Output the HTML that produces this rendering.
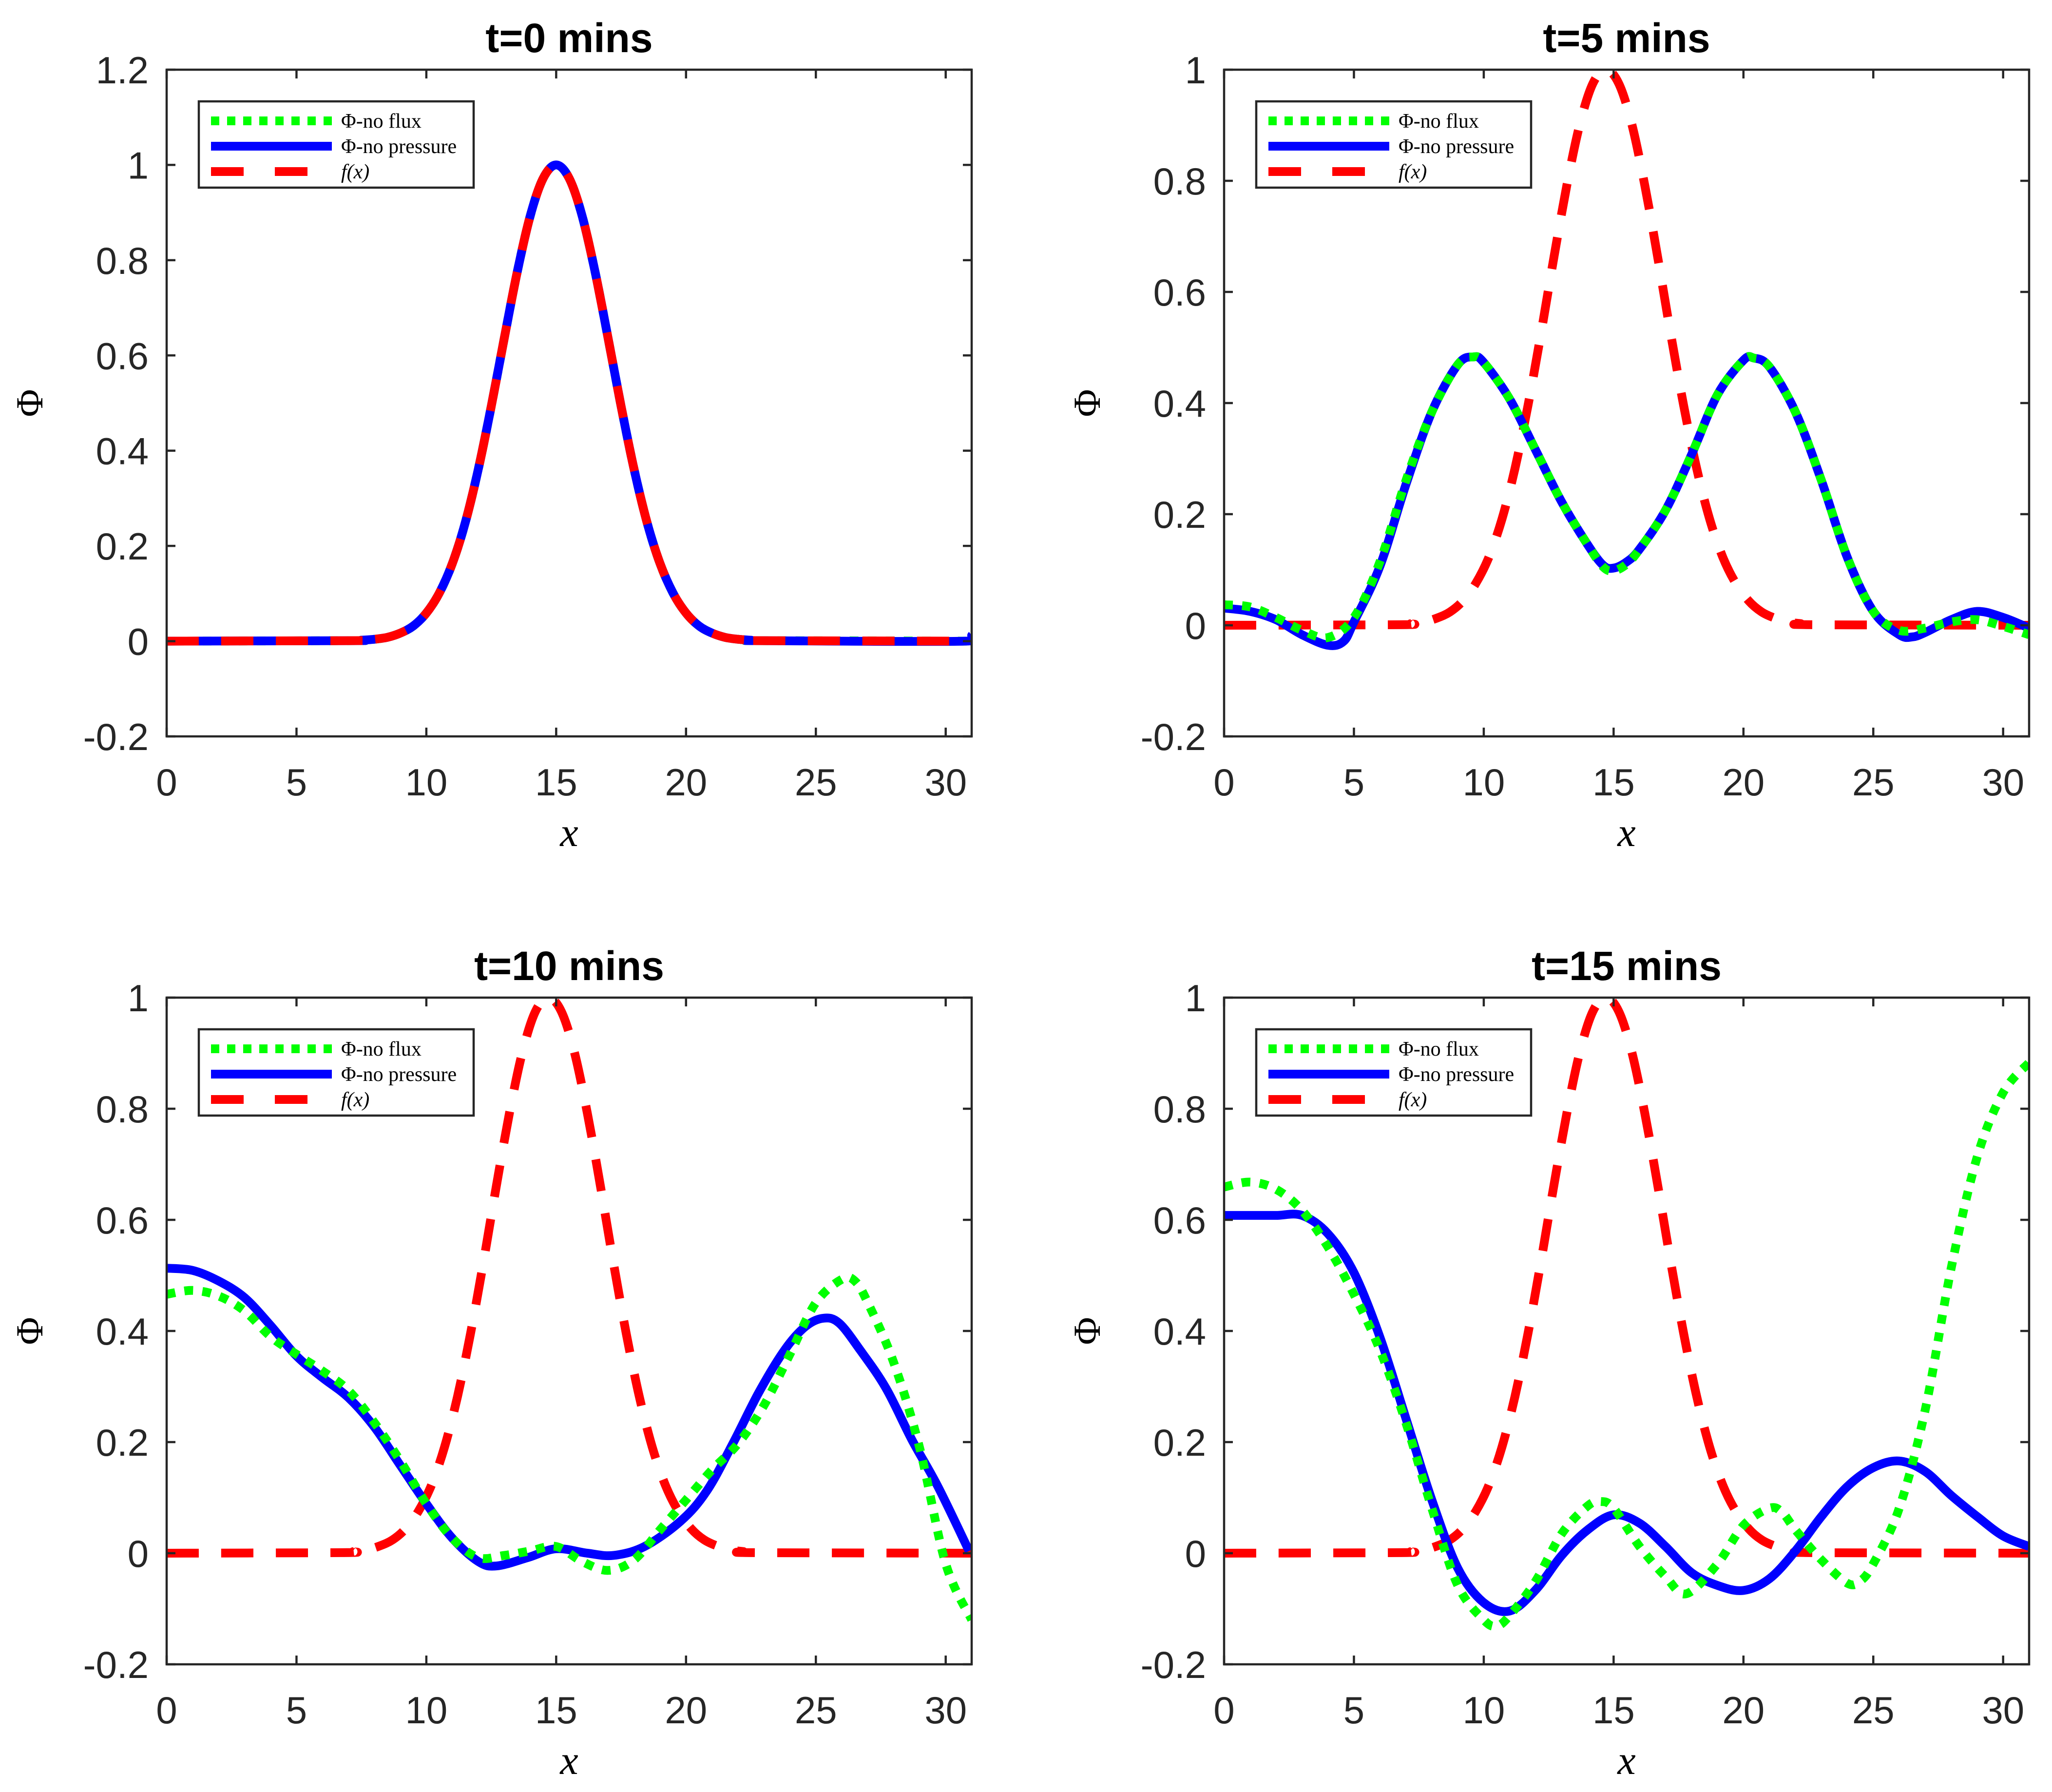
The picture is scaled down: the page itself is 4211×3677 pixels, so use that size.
<!DOCTYPE html>
<html><head><meta charset="utf-8"><style>
html,body{margin:0;padding:0;background:#fff;}
svg{display:block;}
</style></head><body>
<svg id="fig" xmlns="http://www.w3.org/2000/svg" width="4211" height="3677" viewBox="0 0 4211 3677">
<rect width="4211" height="3677" fill="#fff"/>
</svg>
<script>
// ---- data ----
const xTicks = [0,5,10,15,20,25,30];
const yTicksA = [-0.2,0,0.2,0.4,0.6,0.8,1,1.2];
const yTicksB = [-0.2,0,0.2,0.4,0.6,0.8,1];
const yLabelsA = ['-0.2','0','0.2','0.4','0.6','0.8','1','1.2'];
const yLabelsB = ['-0.2','0','0.2','0.4','0.6','0.8','1'];
const titles = ['t=0 mins','t=5 mins','t=10 mins','t=15 mins'];

// t=0
const fX0 = [0,7,7.5,8,8.5,9,9.5,10,10.5,11,11.5,12,12.5,13,13.5,14,14.5,15,15.5,16,16.5,17,17.5,18,18.5,19,19.5,20,20.5,21,21.5,22,22.5,23,31];
const fY0 = [0,0.001,0.002,0.004,0.008,0.017,0.032,0.059,0.101,0.163,0.249,0.361,0.493,0.636,0.775,0.893,0.972,1,0.972,0.893,0.775,0.636,0.493,0.361,0.249,0.163,0.101,0.059,0.032,0.017,0.008,0.004,0.002,0.001,0];
const gX0 = fX0;
const gY0 = fY0;
const bX0 = [0,7,7.5,8,8.5,9,9.5,10,10.5,11,11.5,12,12.5,13,13.5,14,14.5,15,15.5,16,16.5,17,17.5,18,18.5,19,19.5,20,20.5,21,21.5,22,22.5,23,30.7,31];
const bY0 = [0,0.001,0.002,0.004,0.008,0.017,0.032,0.059,0.101,0.163,0.249,0.361,0.493,0.636,0.775,0.893,0.972,1,0.972,0.893,0.775,0.636,0.493,0.361,0.249,0.163,0.101,0.059,0.032,0.017,0.008,0.004,0.002,0.001,0,0.012];

// shifted f(x) for later panels
const fX = [0,6.7,7.2,7.7,8.2,8.7,9.2,9.7,10.2,10.7,11.2,11.7,12.2,12.7,13.2,13.7,14.2,14.7,15.2,15.7,16.2,16.7,17.2,17.7,18.2,18.7,19.2,19.7,20.2,20.7,21.2,21.7,22.2,22.7,31];
const fY = [0,0.001,0.003,0.006,0.013,0.024,0.044,0.076,0.123,0.191,0.282,0.395,0.524,0.662,0.792,0.902,0.975,1,0.975,0.902,0.792,0.662,0.524,0.395,0.282,0.191,0.123,0.076,0.044,0.024,0.013,0.006,0.003,0.001,0];

// t=5
const bX1 = [0,1,2,3,4,4.6,5,6,7,8,9,9.6,10,11,12,13,14,14.6,15,15.5,16,17,18,19,20,20.4,21,22,23,24,25,26,26.5,27,28,29,30,31];
const bY1 = [0.031,0.025,0.01,-0.017,-0.036,-0.029,0.006,0.106,0.253,0.384,0.469,0.483,0.473,0.407,0.315,0.222,0.145,0.108,0.103,0.114,0.137,0.207,0.307,0.415,0.477,0.481,0.465,0.384,0.261,0.122,0.025,-0.017,-0.021,-0.013,0.01,0.025,0.014,-0.005];
const gX1 = [0,1,2,3,4,5,6,7,8,9,9.6,10,11,12,13,14,14.6,15,15.5,16,17,18,19,20,20.4,21,22,23,24,25,26,27,28,29,30,31];
const gY1 = [0.037,0.033,0.014,-0.009,-0.022,0.014,0.114,0.26,0.384,0.469,0.483,0.473,0.407,0.315,0.222,0.145,0.105,0.098,0.11,0.137,0.207,0.307,0.415,0.477,0.481,0.465,0.384,0.261,0.122,0.025,-0.009,-0.005,0.006,0.01,-0.002,-0.017];

// t=10
const bX2 = [0,1,2,3,4,5,6,7,8,9,10,11,12,12.7,13.9,15,16.2,17.2,18.4,19.8,20.8,21.8,22.8,23.8,24.6,25.3,25.9,26.7,27.7,28.7,29.7,30.9];
const bY2 = [0.513,0.509,0.49,0.46,0.41,0.355,0.316,0.28,0.227,0.158,0.089,0.027,-0.015,-0.023,-0.008,0.008,0,-0.004,0.012,0.058,0.112,0.197,0.289,0.366,0.408,0.423,0.414,0.366,0.297,0.204,0.12,0.004];
const gX2 = [0,1,2,3,4,5,6,7,8,9,10,11,12,13,14,15,16,17,18,19,20,21,22,23,24,25,26,26.5,27,28,29,30,31];
const gY2 = [0.466,0.473,0.463,0.436,0.39,0.358,0.328,0.293,0.235,0.166,0.089,0.027,-0.008,-0.004,0.004,0.012,-0.015,-0.031,-0.012,0.042,0.096,0.15,0.197,0.266,0.358,0.451,0.493,0.49,0.451,0.343,0.189,-0.019,-0.12];

// t=15
const bX3 = [0,1,2,3,4,5,6,7,8,9,10,11,12,13,14,15,16,17,18,19,20,21,22,23,24,25,26,27,28,29,30,31];
const bY3 = [0.608,0.608,0.608,0.608,0.575,0.505,0.389,0.243,0.096,-0.027,-0.089,-0.104,-0.066,-0.004,0.042,0.069,0.054,0.012,-0.035,-0.058,-0.067,-0.046,0.004,0.066,0.12,0.154,0.166,0.147,0.104,0.066,0.031,0.012];
const gX3 = [0,1,2,3,4,5,6,7,8,9,10,10.5,11,12,13,14,14.5,15,16,17,17.8,19,20,21,21.5,22,23,24,24.5,25,26,27,28,29,30,31];
const gY3 = [0.659,0.668,0.655,0.617,0.551,0.466,0.366,0.235,0.081,-0.058,-0.12,-0.131,-0.112,-0.05,0.035,0.085,0.093,0.081,0.012,-0.042,-0.073,-0.019,0.05,0.081,0.073,0.042,-0.012,-0.054,-0.05,-0.019,0.081,0.258,0.513,0.713,0.829,0.883];

const panelSeries = [
  {g:[gX0,gY0], b:[bX0,bY0], f:[fX0,fY0], ymax:1.2},
  {g:[gX1,gY1], b:[bX1,bY1], f:[fX,fY], ymax:1},
  {g:[gX2,gY2], b:[bX2,bY2], f:[fX,fY], ymax:1},
  {g:[gX3,gY3], b:[bX3,bY3], f:[fX,fY], ymax:1}
];

// ---- drawing ----
const NS = 'http://www.w3.org/2000/svg';
const svg = document.getElementById('fig');
const origins = [[342,143],[2512,143],[342,2047],[2512,2047]];
const W = 1652, H = 1368, XMAX = 31, YMIN = -0.2;
const AX = '#262626';
function mk(tag, attrs, parent){
  const e = document.createElementNS(NS, tag);
  for (const k in attrs) e.setAttribute(k, attrs[k]);
  (parent||svg).appendChild(e);
  return e;
}
function smoothPath(pts){
  let d = 'M' + pts[0][0].toFixed(1) + ' ' + pts[0][1].toFixed(1);
  for (let i=0;i<pts.length-1;i++){
    const p0 = pts[Math.max(0,i-1)], p1 = pts[i], p2 = pts[i+1], p3 = pts[Math.min(pts.length-1,i+2)];
    const c1x = p1[0] + (p2[0]-p0[0])/6, c1y = p1[1] + (p2[1]-p0[1])/6;
    const c2x = p2[0] - (p3[0]-p1[0])/6, c2y = p2[1] - (p3[1]-p1[1])/6;
    d += ' C' + c1x.toFixed(1)+' '+c1y.toFixed(1)+' '+c2x.toFixed(1)+' '+c2y.toFixed(1)+' '+p2[0].toFixed(1)+' '+p2[1].toFixed(1);
  }
  return d;
}

panelSeries.forEach((ps, i) => {
  const [ox, oy] = origins[i];
  const ymax = ps.ymax;
  const sx = v => ox + v / XMAX * W;
  const sy = v => oy + H - (v - YMIN) / (ymax - YMIN) * H;
  const g = mk('g', {});
  
  

  const clipId = 'clip' + i;
  const cp = mk('clipPath', {id: clipId}, g);
  mk('rect', {x: ox, y: oy, width: W, height: H}, cp);

  const t = mk('text', {x: ox + W/2, y: oy - 36, 'text-anchor':'middle', 'font-family':'Liberation Sans, sans-serif', 'font-weight':'bold', 'font-size':84, fill:'#000'}, g);
  t.textContent = titles[i];
  
  

  const series = [
    {d: ps.f, color:'#ff0000', dash:'66 46', name:'series-f-x'},
    {d: ps.b, color:'#0000ff', dash:'none', name:'series-no-pressure'},
    {d: ps.g, color:'#00ff00', dash:'18 19', name:'series-no-flux'}
  ];
  const order = i === 0 ? [2,1,0] : [0,1,2];
  const sg = mk('g', {'clip-path':'url(#'+clipId+')'}, g);
  order.forEach(k => {
    const s = series[k];
    const pts = s.d[0].map((x, j) => [sx(x), sy(s.d[1][j])]);
    const p = mk('path', {d: smoothPath(pts), fill:'none', stroke:s.color, 'stroke-width':18, 'stroke-dasharray':s.dash, 'stroke-linejoin':'round'}, sg);
    
    
  });

  const box = mk('rect', {x: ox, y: oy, width: W, height: H, fill:'none', stroke:AX, 'stroke-width':4.5}, g);
  
  

  xTicks.forEach(v => {
    const x = sx(v);
    mk('line', {x1:x, y1:oy+H, x2:x, y2:oy+H-18, stroke:AX, 'stroke-width':4.5}, g);
    mk('line', {x1:x, y1:oy, x2:x, y2:oy+18, stroke:AX, 'stroke-width':4.5}, g);
    const tl = mk('text', {x:x, y:oy+H+121, 'text-anchor':'middle', 'font-family':'Liberation Sans, sans-serif', 'font-size':78, fill:AX}, g);
    tl.textContent = String(v);
    
    
  });
  const yt = i === 0 ? yTicksA : yTicksB;
  const yl = i === 0 ? yLabelsA : yLabelsB;
  yt.forEach((v, j) => {
    const y = sy(v);
    mk('line', {x1:ox, y1:y, x2:ox+18, y2:y, stroke:AX, 'stroke-width':4.5}, g);
    mk('line', {x1:ox+W, y1:y, x2:ox+W-18, y2:y, stroke:AX, 'stroke-width':4.5}, g);
    const tl = mk('text', {x:ox-37, y:y+28, 'text-anchor':'end', 'font-family':'Liberation Sans, sans-serif', 'font-size':78, fill:AX}, g);
    tl.textContent = yl[j];
    
    
  });

  const xl = mk('text', {x: ox + W/2, y: oy + H + 225, 'text-anchor':'middle', 'font-family':'Liberation Serif, serif', 'font-style':'italic', 'font-size':84, fill:'#000'}, g);
  xl.textContent = 'x';
  
  
  const yx = ox - 255, yy = oy + H/2;
  const ylb = mk('text', {x: yx, y: yy, 'text-anchor':'middle', 'font-family':'Liberation Serif, serif', 'font-size':78, fill:'#000', transform:'rotate(-90 '+yx+' '+yy+')'}, g);
  ylb.textContent = 'Φ';
  
  

  const lg = mk('g', {}, g);
  
  
  const lx = ox + 66, ly = oy + 65;
  mk('rect', {x:lx, y:ly, width:564, height:177, fill:'#fff', stroke:AX, 'stroke-width':4.5}, lg);
  const entries = [
    {color:'#00ff00', dash:'17 16', label:'Φ-no flux', italic:false, name:'legend-entry-no-flux'},
    {color:'#0000ff', dash:'none', label:'Φ-no pressure', italic:false, name:'legend-entry-no-pressure'},
    {color:'#ff0000', dash:'67 64', label:'f(x)', italic:true, name:'legend-entry-f-x'}
  ];
  entries.forEach((e, k) => {
    const y = ly + 40 + k*52;
    const eg = mk('g', {}, lg);
    
    
    mk('line', {x1:lx+25, y1:y, x2:lx+273, y2:y, stroke:e.color, 'stroke-width':18, 'stroke-dasharray':e.dash}, eg);
    const tx = mk('text', {x:lx+292, y:y+14, 'font-family':'Liberation Serif, serif', 'font-size':42, 'font-style': e.italic ? 'italic':'normal', fill:'#000'}, eg);
    tx.textContent = e.label;
  });
});
</script>
</body></html>
